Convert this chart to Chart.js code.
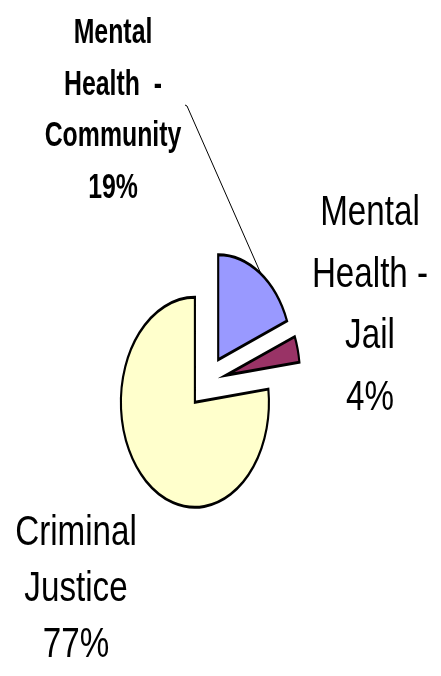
<!DOCTYPE html>
<html>
<head>
<meta charset="utf-8">
<script src="https://cdn.jsdelivr.net/npm/chart.js@4.4.0/dist/chart.umd.min.js"></script>
<style>
  html, body { margin: 0; padding: 0; background: #fff; }
  #chart { display: block; }
</style>
</head>
<body>
<canvas id="chart" width="441" height="676"></canvas>
<script>
// Datos del gráfico
const categories = [
  ['Mental', 'Health  -', 'Community'],
  ['Mental', 'Health -', 'Jail'],
  ['Criminal', 'Justice']
];
const shares = [19, 4, 77];
const sliceColors = ['#9999FF', '#993366', '#FFFFCC'];

// Aspecto: el gráfico original está comprimido en horizontal
const PIE_SQUASH = 0.705;
const EXPLODE = 27;

// Posición y estilo de cada etiqueta (x = centro, y = primera línea base)
const labelStyles = [
  { x: 113, y: 43, weight: 'bold', size: 35, squash: 0.71, step: 51.5 },
  { x: 370, y: 225, weight: 'normal', size: 42, squash: 0.79, step: 61.5 },
  { x: 76, y: 545, weight: 'normal', size: 42, squash: 0.79, step: 56 }
];
const leader = { from: [187, 106], to: [261, 274] };

// Dibuja las porciones separadas y con forma de elipse
const explodePlugin = {
  id: 'explode',
  beforeDatasetDraw(chart, args) {
    const ctx = chart.ctx;
    const arcs = args.meta.data;
    if (!arcs.length) return;
    const cx = arcs[0].x, cy = arcs[0].y;
    ctx.save();
    ctx.translate(cx, cy);
    ctx.scale(PIE_SQUASH, 1);
    ctx.translate(-cx, -cy);
    arcs.forEach(arc => {
      const mid = (arc.startAngle + arc.endAngle) / 2;
      ctx.save();
      ctx.translate(Math.cos(mid) * EXPLODE, Math.sin(mid) * EXPLODE);
      arc.draw(ctx);
      ctx.restore();
    });
    ctx.restore();
    return false;
  }
};

// Etiquetas con porcentaje y línea guía
const labelPlugin = {
  id: 'sliceLabels',
  afterDraw(chart) {
    const ctx = chart.ctx;
    const total = shares.reduce((a, b) => a + b, 0);
    ctx.save();
    ctx.strokeStyle = '#000';
    ctx.lineWidth = 1;
    ctx.beginPath();
    ctx.moveTo(leader.from[0] - 2, leader.from[1] - 1);
    ctx.lineTo(leader.from[0], leader.from[1]);
    ctx.lineTo(leader.to[0], leader.to[1]);
    ctx.stroke();

    ctx.fillStyle = '#000';
    ctx.textAlign = 'center';
    ctx.textBaseline = 'alphabetic';
    categories.forEach((lines, i) => {
      const st = labelStyles[i];
      const pct = Math.round(shares[i] / total * 100) + '%';
      const all = lines.concat([pct]);
      ctx.font = st.weight + ' ' + st.size + 'px "Liberation Sans", Arial, sans-serif';
      all.forEach((txt, j) => {
        ctx.save();
        ctx.translate(st.x, st.y + j * st.step);
        ctx.scale(st.squash, 1);
        ctx.fillText(txt, 0, 0);
        ctx.restore();
      });
    });
    ctx.restore();
  }
};

new Chart(document.getElementById('chart'), {
  type: 'pie',
  data: {
    labels: categories,
    datasets: [{
      data: shares,
      backgroundColor: sliceColors,
      borderColor: '#000',
      borderWidth: 3,
      borderJoinStyle: 'miter',
      radius: 105
    }]
  },
  options: {
    responsive: false,
    animation: false,
    layout: { padding: { left: 0, right: 26, top: 88, bottom: 0 } },
    plugins: {
      legend: { display: false },
      tooltip: { enabled: false }
    }
  },
  plugins: [explodePlugin, labelPlugin]
});
</script>
</body>
</html>
